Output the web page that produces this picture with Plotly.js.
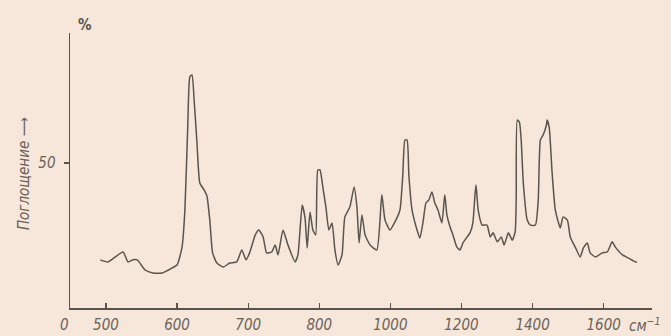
<!DOCTYPE html>
<html>
<head>
<meta charset="utf-8">
<script src="https://cdn.plot.ly/plotly-3.0.1.min.js"></script>
<style>html,body{margin:0;padding:0;background:#f6e7da;}</style>
</head>
<body>
<div id="chart" style="width:671px;height:336px;"></div>
<script>
// Wavenumber, cm^-1
const wavenumber = [492,503,524,531,538,544,555,566,579,593,
600,607,611,615,618,621,624,628,632,638,
642,646,650,656,665,674,684,691,697,702,
710,715,721,726,733,738,742,749,756,766,
770,776,780,783,787,791,795,798,802,810,
819,827,836,844,853,864,872,886,898,906,
912,920,929,943,962,976,985,999,1013,1027,
1035,1041,1047,1052,1061,1075,1083,1092,1100,1108,
1117,1125,1134,1145,1153,1159,1168,1176,1187,1196,
1204,1216,1224,1232,1238,1241,1247,1258,1272,1281,
1289,1301,1312,1320,1332,1343,1351,1354,1357,1363,
1368,1374,1385,1394,1408,1416,1422,1430,1439,1441,
1447,1455,1464,1478,1486,1498,1506,1520,1534,1543,
1554,1562,1577,1596,1610,1624,1633,1653,1670,1689,
1694];
// Absorption, %
const absorption = [16.6,15.9,19.3,15.9,16.6,16.6,13.1,12.1,12.1,13.8,
14.8,21.0,33.8,62.4,79.7,80.3,71.7,56.9,43.1,40.7,
38.6,30.3,19.0,15.5,14.1,15.5,15.9,20.0,16.6,19.0,
25.2,26.9,24.5,19.0,19.3,21.7,18.3,26.9,21.7,15.9,
18.3,35.5,31.0,20.7,33.1,26.9,25.2,47.6,47.6,41.7,
34.5,26.9,29.3,20.0,14.8,18.3,31.4,34.8,41.7,34.8,
22.4,32.1,25.2,21.7,20.0,39.0,30.3,26.9,29.7,33.8,
45.9,57.9,57.9,45.9,33.8,26.9,24.1,29.7,36.2,37.2,
40.0,36.2,33.8,29.3,39.0,32.1,27.9,25.2,21.0,20.0,
22.4,24.5,25.9,29.3,39.0,42.4,33.8,28.6,28.6,24.5,
25.9,22.8,24.5,21.7,25.9,23.4,26.2,37.2,64.8,64.1,
57.9,43.1,30.3,28.6,28.6,37.2,57.9,59.7,63.1,64.8,
62.1,46.6,33.8,27.6,31.4,30.3,24.5,21.0,17.6,20.7,
22.4,19.0,17.6,19.0,19.3,22.8,21.0,18.3,17.2,15.9,
15.9];
const xTickLabels = [500,600,700,800,1000,1200,1400,1600];
const yTickValues = [50];

// Broken axis of the original: 100 cm^-1 per division up to 800, 200 cm^-1 per division above
function toAxis(w){ return w <= 800 ? w/100 : 8 + (w-800)/200; }

const ink = '#5a544f';
const txt = '#6b625b';
const fam = '"Liberation Sans Narrow", "DejaVu Sans Condensed", sans-serif';

const trace = {
  x: wavenumber.map(toAxis),
  y: absorption,
  type: 'scatter',
  mode: 'lines',
  line: {color: ink, width: 1.5, shape: 'spline', smoothing: 0.5},
  hoverinfo: 'skip'
};

const layout = {
  width: 671, height: 336,
  margin: {l:70, r:19, t:33, b:28},
  paper_bgcolor: '#f6e7da',
  plot_bgcolor: '#f6e7da',
  showlegend: false,
  xaxis: {
    range: [4.494, 12.68],
    showline: true, linecolor: ink, linewidth: 1.5,
    showgrid: false, zeroline: false,
    ticks: 'inside', ticklen: 5, tickcolor: ink, tickwidth: 1.2,
    tickvals: xTickLabels.map(toAxis),
    ticktext: xTickLabels.map(String),
    tickfont: {family: fam, size: 15, color: txt, style: 'italic'},
    ticklabelstandoff: 2
  },
  yaxis: {
    range: [0, 94.8],
    showline: true, linecolor: ink, linewidth: 1.5,
    showgrid: false, zeroline: false,
    ticks: 'outside', ticklen: 5, tickcolor: ink, tickwidth: 1.2,
    tickvals: yTickValues,
    ticktext: yTickValues.map(String),
    tickfont: {family: fam, size: 15, color: txt, style: 'italic'},
    ticklabelstandoff: 5
  },
  annotations: [
    {text: '%', xref: 'paper', yref: 'paper', x: 0.026, y: 1.029, showarrow: false,
     xanchor: 'center', yanchor: 'middle', font: {family: fam, size: 15, color: ink, weight: 'bold'}},
    {text: '0', xref: 'paper', yref: 'paper', x: -0.010, y: -0.062, showarrow: false,
     xanchor: 'center', yanchor: 'middle', font: {family: fam, size: 15, color: txt, style: 'italic'}},
    {text: 'см<sup>−1</sup>', xref: 'paper', yref: 'paper', x: 0.957, y: -0.062, showarrow: false,
     xanchor: 'left', yanchor: 'middle', font: {family: fam, size: 15, color: txt, style: 'italic'}},
    {text: 'Поглощение ⟶', xref: 'paper', yref: 'paper', x: -0.079, y: 0.487, showarrow: false,
     textangle: -90, xanchor: 'center', yanchor: 'middle', font: {family: fam, size: 15, color: txt, style: 'italic'}}
  ]
};

Plotly.newPlot('chart', [trace], layout, {displayModeBar: false, staticPlot: true});
</script>
</body>
</html>
